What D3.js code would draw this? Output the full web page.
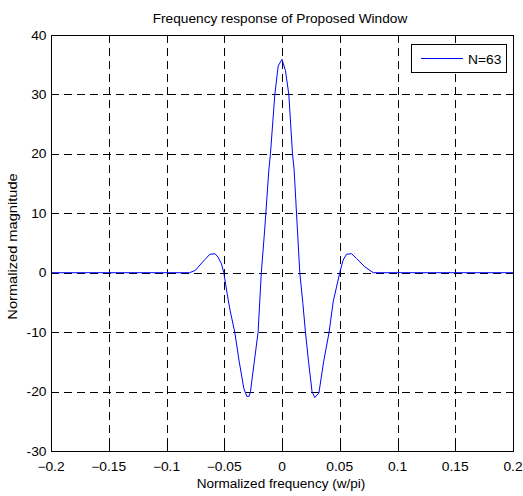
<!DOCTYPE html>
<html>
<head>
<meta charset="utf-8">
<script src="https://cdn.jsdelivr.net/npm/d3@7"></script>
<style>
	body { margin: 0; background: #fff; }
	text { font-family: "Liberation Sans", Arial, sans-serif; font-size: 12px; fill: #000; }
	.grid line { stroke: #000; stroke-width: 1; stroke-dasharray: 8,5; shape-rendering: crispEdges; }
	.frame { fill: none; stroke: #000; stroke-width: 1; shape-rendering: crispEdges; }
	.curve { fill: none; stroke: #0000ff; stroke-width: 1; }
</style>
</head>
<body>
<svg width="523" height="496" id="chart"></svg>
<script>

	// frequency response samples (w/pi) and magnitude
	var freq = [-0.2, -0.08, -0.075, -0.071, -0.0668, -0.0625, -0.058, -0.0553, -0.0524, -0.0504,
		-0.0475, -0.045, -0.0409, -0.037, -0.033, -0.0305, -0.0285, -0.0273, -0.024, -0.0207,
		-0.0179, -0.015, -0.0114, -0.01, -0.0062, -0.0033, 0, 0.003, 0.0059, 0.0091,
		0.0105, 0.0154, 0.018, 0.0203, 0.023, 0.026, 0.0284, 0.032, 0.036, 0.0408,
		0.0443, 0.05, 0.0529, 0.0558, 0.0602, 0.0645, 0.0717, 0.079, 0.2];
	var magnitude = [0, 0, 0.4, 1.3, 2.2, 3.1, 3.2, 2.6, 1.5, 0,
		-3.5, -6.3, -10, -15, -19.5, -20.8, -20.8, -20, -15, -10,
		0, 7.2, 17.3, 20, 30, 34.8, 35.9, 34, 30, 20,
		17.3, 0, -5, -10, -15, -20, -21, -20.2, -15, -10,
		-4.9, 0, 2.1, 3.1, 3.2, 2.4, 1.0, 0, 0];

	var xTicks = [-0.2, -0.15, -0.1, -0.05, 0, 0.05, 0.1, 0.15, 0.2];
	var yTicks = [-30, -20, -10, 0, 10, 20, 30, 40];
	var seriesName = "N=63";

	var svg = d3.select("svg#chart"),
		margin = { top: 35, right: 10, bottom: 45, left: 51 },
		width = +svg.attr("width") - margin.left - margin.right,
		height = +svg.attr("height") - margin.top - margin.bottom,
		g = svg.append("g").attr("transform", "translate(" + margin.left + "," + margin.top + ")");

	var x = d3.scaleLinear().domain([-0.2, 0.2]).range([0, width]);
	var y = d3.scaleLinear().domain([-30, 40]).range([height, 0]);

	var stretch = 1.15;

	// text widened a little, as the plotting tool renders it
	function label(parent, px, py, str, anchor, rot, sx) {
		var t = parent.append("g")
			.attr("transform", "translate(" + px + "," + py + ")" + (rot ? " rotate(" + rot + ")" : ""));
		t.append("text")
			.attr("transform", "scale(" + (sx || stretch) + ",1)")
			.attr("text-anchor", anchor)
			.text(str);
		return t;
	}

	// dashed grid
	var grid = g.append("g").attr("class", "grid");
	grid.selectAll(".vx")
		.data(xTicks.slice(1, -1))
		.enter().append("line")
		.attr("x1", function(d) { return Math.round(x(d)) + 0.5; })
		.attr("x2", function(d) { return Math.round(x(d)) + 0.5; })
		.attr("y1", 0)
		.attr("y2", height);
	grid.selectAll(".hy")
		.data(yTicks.slice(1, -1))
		.enter().append("line")
		.attr("y1", function(d) { return Math.round(y(d)) + 0.5; })
		.attr("y2", function(d) { return Math.round(y(d)) + 0.5; })
		.attr("x1", 0)
		.attr("x2", width);

	// inward ticks on all four sides
	g.append("g").call(d3.axisBottom(x).tickValues(xTicks).tickSize(5).tickFormat(""))
		.attr("transform", "translate(0," + height + ") scale(1,-1)");
	g.append("g").call(d3.axisBottom(x).tickValues(xTicks).tickSize(5).tickFormat(""));
	g.append("g").call(d3.axisRight(y).tickValues(yTicks).tickSize(5).tickFormat(""));
	g.append("g").call(d3.axisLeft(y).tickValues(yTicks).tickSize(5).tickFormat(""))
		.attr("transform", "translate(" + width + ",0)");
	g.selectAll(".domain").remove();
	g.selectAll(".tick line").attr("stroke", "#000").attr("shape-rendering", "crispEdges");

	// the response curve
	var line = d3.line()
		.x(function(d) { return x(d[0]); })
		.y(function(d) { return y(d[1]); });

	g.append("path")
		.datum(d3.zip(freq, magnitude))
		.attr("class", "curve")
		.attr("d", line);

	g.append("rect")
		.attr("class", "frame")
		.attr("x", 0.5)
		.attr("y", 0.5)
		.attr("width", width)
		.attr("height", height);

	// tick labels
	xTicks.forEach(function(d) {
		label(g, x(d), height + 19.5, d3.format("")(d), "middle");
	});
	yTicks.forEach(function(d) {
		label(g, -4.5, y(d) + 4.5, d, "end");
	});

	// legend
	var legend = g.append("g").attr("transform", "translate(" + (width - 102) + ",9)");
	legend.append("rect")
		.attr("class", "frame")
		.attr("x", 0.5)
		.attr("y", 0.5)
		.attr("width", 95)
		.attr("height", 28)
		.style("fill", "#fff");
	legend.append("line")
		.attr("x1", 10).attr("x2", 52)
		.attr("y1", 14.5).attr("y2", 14.5)
		.attr("stroke", "#0000ff");
	label(legend, 57, 20, seriesName, "start");

	// titles
	label(svg, 280, 22.5, "Frequency response of Proposed Window", "middle", 0, 1.14);
	label(svg, 281, 487.5, "Normalized frequency (w/pi)", "middle", 0, 1.13);
	label(svg, 16.5, 246.5, "Normalized magnitude", "middle", -90, 1.22);
</script>
</body>
</html>
